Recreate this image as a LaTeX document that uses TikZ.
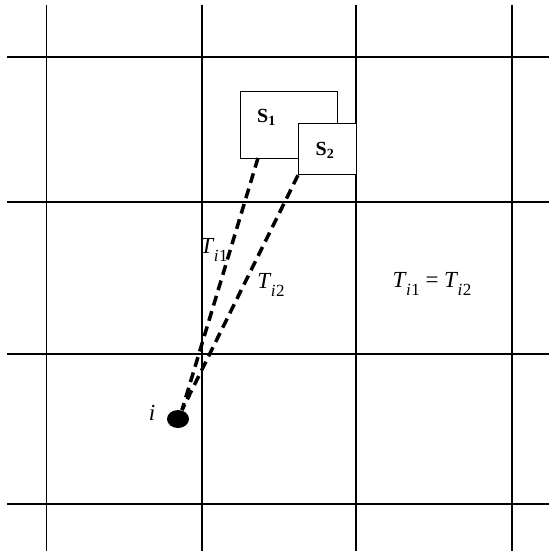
\documentclass[tikz,border=0pt]{standalone}
\usepackage{fontspec}
\setmainfont{Liberation Serif}
\usepackage{graphicx}
\usetikzlibrary{shapes.geometric}
\newcommand\Tsub[1]{\textit{T}\kern-0.03em\raisebox{-0.34em}{\scalebox{0.74}{\textit{i}\kern0.02em#1}}}
\begin{document}
\begin{tikzpicture}[x=1pt,y=-1pt,
  gridline/.style={line width=1.6pt,black},
  box/.style={draw,line width=1.2pt,fill=white,inner sep=0pt,anchor=north west},
  lbl/.style={inner sep=0pt,font=\fontsize{23}{25}\selectfont},
  blbl/.style={inner sep=0pt,font=\fontsize{20}{22}\selectfont\bfseries},
  dashline/.style={line width=3.5pt,dash pattern=on 10pt off 6pt}]
\useasboundingbox (0,0) rectangle (549,551);
% grid
\foreach \x in {46.5,202,356,512} \draw[gridline] (\x,5) -- (\x,551);
\foreach \y in {57,202,354,504} \draw[gridline] (7,\y) -- (549,\y);
% boxes
\node[box,minimum width=97pt,minimum height=67pt] (s1) at (240,91) {};
\node[box,minimum width=58pt,minimum height=51pt] (s2) at (298,123) {};
\node[blbl] (s1t) at (266.5,117) {S\textsubscript{1}};
\node[blbl] (s2t) at (325,150) {S\textsubscript{2}};
% dot
\node[fill=black,ellipse,minimum width=22pt,minimum height=18pt,inner sep=0pt] (dot) at (178,419) {};
\coordinate (a1) at (258,158);
\coordinate (a2) at (s2.south west);
\coordinate (d) at (182,410);
\draw[dashline] (a1) -- (d);
\draw[dashline] (a2) -- (d);
% labels
\node[lbl] (t1) at (214,250) {\Tsub{1}};
\node[lbl] (t2) at (271,285) {\Tsub{2}};
\node[lbl] (eq) at (432,284) {\Tsub{1} = \Tsub{2}};
\node[lbl] (il) at (152,413) {\textit{i}};
\end{tikzpicture}
\end{document}
